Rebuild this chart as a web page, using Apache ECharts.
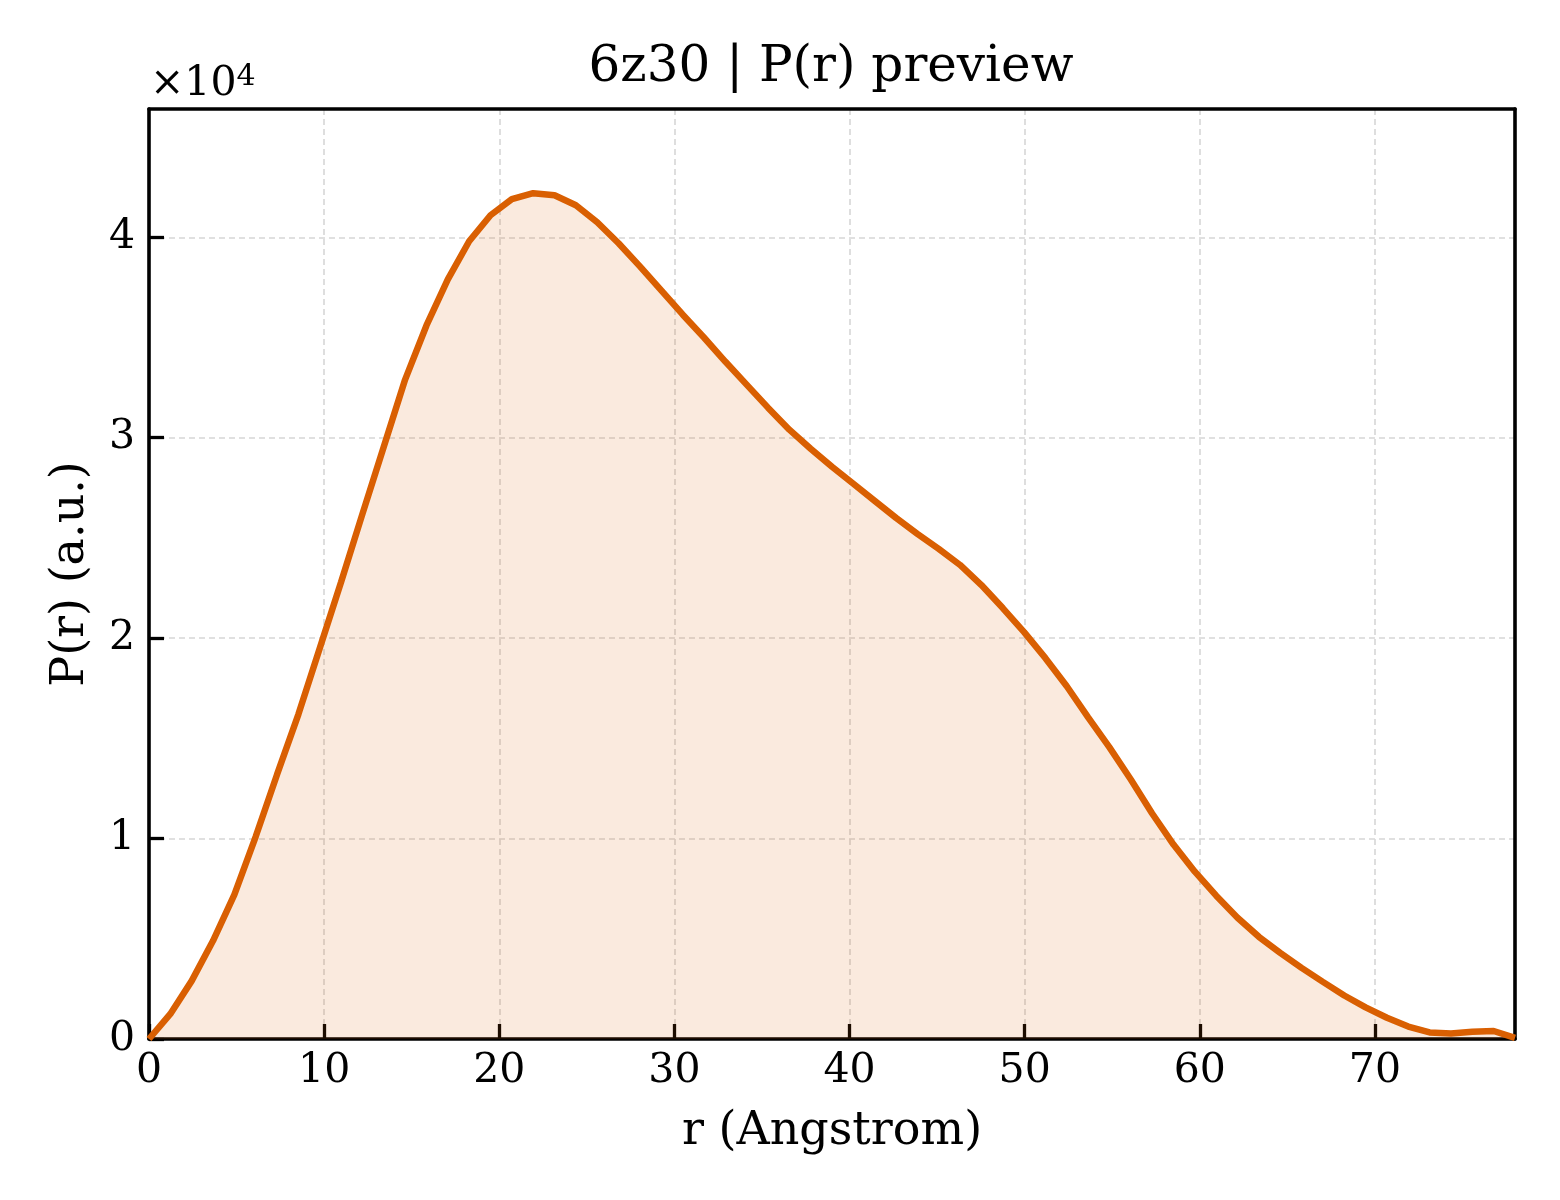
<!DOCTYPE html>
<html>
<head>
<meta charset="utf-8">
<title>6z30 | P(r) preview</title>
<script src="https://cdn.jsdelivr.net/npm/echarts@6/dist/echarts.min.js"></script>
<style>
  html, body { margin: 0; padding: 0; background: #fff; }
  #container { width: 1560px; height: 1200px; }
</style>
</head>
<body>
<div id="container"></div>
<script>
const rValues = [
  0, 1.219, 2.438, 3.656, 4.875, 6.094, 7.313, 8.531, 9.75, 10.969,
  12.188, 13.406, 14.625, 15.844, 17.063, 18.281, 19.5, 20.719, 21.938, 23.156,
  24.375, 25.594, 26.813, 28.031, 29.25, 30.469, 31.688, 32.906, 34.125, 35.344,
  36.563, 37.781, 39.0, 40.219, 41.438, 42.656, 43.875, 45.094, 46.313, 47.531,
  48.75, 49.969, 51.188, 52.406, 53.625, 54.844, 56.063, 57.281, 58.5, 59.719,
  60.938, 62.156, 63.375, 64.594, 65.813, 67.031, 68.25, 69.469, 70.688, 71.906,
  73.125, 74.344, 75.563, 76.781, 78.0
];
const prValues = [
  0, 1250, 2900, 4900, 7200, 10100, 13200, 16200, 19500, 22800,
  26200, 29550, 32900, 35600, 37900, 39800, 41100, 41900, 42200, 42100,
  41600, 40750, 39700, 38550, 37350, 36150, 35000, 33800, 32650, 31500,
  30400, 29450, 28550, 27700, 26850, 26000, 25200, 24450, 23650, 22650,
  21500, 20300, 19000, 17600, 16050, 14550, 12950, 11250, 9700, 8350,
  7150, 6050, 5100, 4300, 3550, 2850, 2170, 1580, 1060, 620,
  330, 280, 360, 400, 60
];

const X_MAX = 78;
const Y_MAX = 46400;
const LINE_COLOR = "#d95f02";
const FONT = "'DejaVu Serif', serif";

const seriesData = rValues.map((r, i) => [r, prValues[i]]);

const myChart = echarts.init(document.getElementById("container"), null, {
  renderer: "canvas",
});

const gridLine = {
  show: true,
  lineStyle: { color: "#d6d6d6", width: 1.6, type: [6, 4] },
};
const spine = { show: true, onZero: false, lineStyle: { color: "#000", width: 3.6 } };
const tick = { show: true, inside: true, length: 15, lineStyle: { color: "#000", width: 3.3 } };

const option = {
  animation: false,
  backgroundColor: "#fff",
  title: [
    {
      text: "6z30 | P(r) preview",
      left: 826,
      textAlign: "center",
      top: 38,
      textStyle: { fontFamily: FONT, fontSize: 50, fontWeight: "normal", color: "#000" },
    },
    {
      text: "×10{sup|4}",
      left: 145,
      top: 57,
      textStyle: {
        fontFamily: FONT,
        fontSize: 41,
        fontWeight: "normal",
        color: "#000",
        rich: {
          sup: { fontFamily: FONT, fontSize: 30, verticalAlign: "top", padding: [0, 0, 14, 0], color: "#000" },
        },
      },
    },
  ],
  grid: {
    left: 149,
    right: 45,
    top: 109,
    bottom: 161,
  },
  xAxis: [
    {
      type: "value",
      min: 0,
      max: X_MAX,
      interval: 10,
      name: "r (Angstrom)",
      nameLocation: "middle",
      nameGap: 70,
      nameTextStyle: { fontFamily: FONT, fontSize: 46, color: "#000" },
      axisLine: spine,
      axisTick: tick,
      axisLabel: {
        fontFamily: FONT,
        fontSize: 41,
        color: "#000",
        margin: 12,
        showMaxLabel: false,
        formatter: (v) => (v % 10 === 0 ? String(v) : ""),
      },
      splitLine: gridLine,
    },
    {
      type: "value",
      position: "top",
      min: 0,
      max: X_MAX,
      interval: 10,
      axisLine: spine,
      axisTick: { show: false },
      axisLabel: { show: false },
      splitLine: { show: false },
    },
  ],
  yAxis: [
    {
      type: "value",
      min: 0,
      max: Y_MAX,
      interval: 10000,
      name: "P(r) (a.u.)",
      nameLocation: "middle",
      nameGap: 55,
      nameRotate: 90,
      nameTextStyle: { fontFamily: FONT, fontSize: 46, color: "#000" },
      axisLine: spine,
      axisTick: tick,
      axisLabel: {
        fontFamily: FONT,
        fontSize: 41,
        color: "#000",
        margin: 14,
        showMaxLabel: false,
        formatter: (v) => (v % 10000 === 0 ? String(v / 10000) : ""),
      },
      splitLine: gridLine,
    },
    {
      type: "value",
      position: "right",
      min: 0,
      max: Y_MAX,
      interval: 10000,
      axisLine: spine,
      axisTick: { show: false },
      axisLabel: { show: false },
      splitLine: { show: false },
    },
  ],
  series: [
    {
      type: "line",
      data: seriesData,
      showSymbol: false,
      smooth: false,
      lineStyle: { color: LINE_COLOR, width: 6.5 },
      itemStyle: { color: LINE_COLOR },
      areaStyle: { color: "rgba(217, 95, 2, 0.13)", opacity: 1 },
    },
  ],
};

myChart.setOption(option);
window.addEventListener("resize", myChart.resize);
</script>
</body>
</html>
